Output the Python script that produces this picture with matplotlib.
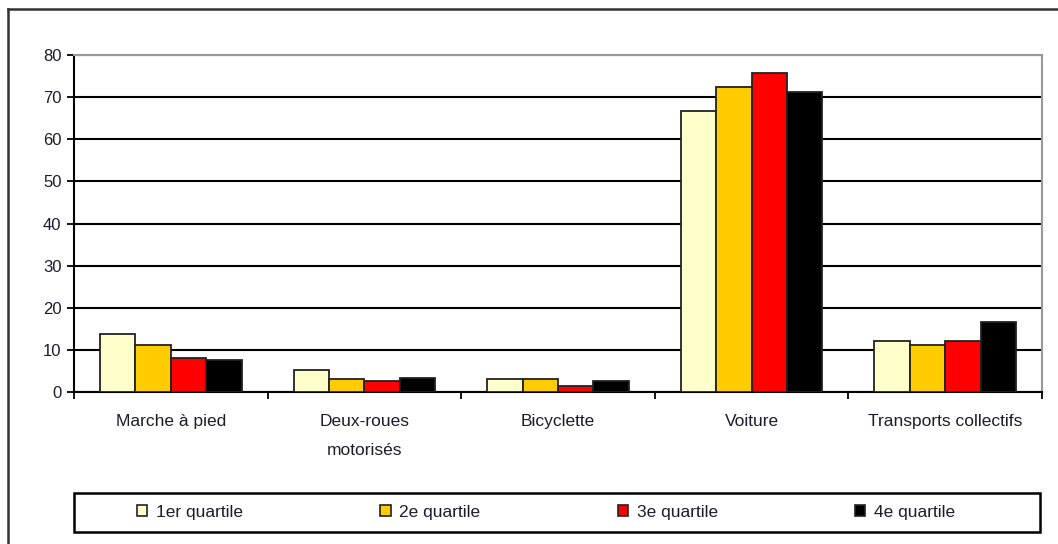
import numpy as np
import matplotlib.pyplot as plt
from matplotlib.patches import Rectangle, Patch
from matplotlib.lines import Line2D

plt.rcParams['font.family'] = ['Liberation Sans', 'DejaVu Sans']

# catégories et valeurs
categories = ['Marche à pied', 'Deux-roues\nmotorisés', 'Bicyclette', 'Voiture', 'Transports collectifs']
series = ['1er quartile', '2e quartile', '3e quartile', '4e quartile']
q1 = [13.8, 5.3, 3.1, 66.8, 12.2]
q2 = [11.2, 3.1, 3.1, 72.5, 11.2]
q3 = [8.0, 2.6, 1.5, 75.8, 12.2]
q4 = [7.6, 3.3, 2.7, 71.2, 16.6]
couleurs = ['#FFFFCC', '#FFCC00', '#FF0000', '#000000']
yticks = [0, 10, 20, 30, 40, 50, 60, 70, 80]

texte = '#1c1c2e'

W, H = 1058, 544
fig = plt.figure(figsize=(W / 100, H / 100), dpi=100)
ax = fig.add_axes([74 / W, 1 - 392 / H, (1042 - 74) / W, (392 - 55) / H])

x = np.arange(len(categories))
w = 0.183
for i, (vals, c) in enumerate(zip([q1, q2, q3, q4], couleurs)):
    ax.bar(x + (i - 1.5) * w, vals, w, color=c, edgecolor='#222222', linewidth=1.3,
           label=series[i], zorder=3)

ax.set_xlim(-0.5, len(categories) - 0.5)
ax.set_ylim(0, 80)
ax.set_yticks(yticks)
ax.yaxis.grid(True, color='black', linewidth=1.5, zorder=0)
ax.set_xticks(x)
ax.set_xticklabels(categories, fontsize=12.5, linespacing=2.15, color=texte)
ax.set_xticks(np.arange(len(categories) + 1) - 0.5, minor=True)
ax.tick_params(axis='x', which='major', length=0, pad=16)
ax.tick_params(axis='x', which='minor', length=5, width=1.3, direction='out')
ax.tick_params(axis='y', length=5, width=1.3, labelsize=12, pad=4, labelcolor=texte)

ax.spines['left'].set_linewidth(1.5)
ax.spines['bottom'].set_linewidth(1.5)
ax.spines['top'].set_color('#999999')
ax.spines['right'].set_color('#999999')
ax.spines['top'].set_linewidth(1.5)
ax.spines['right'].set_linewidth(1.5)

# cadre extérieur (haut et gauche)
fig.add_artist(Line2D([8 / W, 8 / W], [0, 1 - 9 / H], color='#333333', linewidth=1.8))
fig.add_artist(Line2D([8 / W, 1], [1 - 9 / H, 1 - 9 / H], color='#333333', linewidth=1.8))

# cadre de la légende
fig.add_artist(Rectangle((74 / W, 1 - 532 / H), (1040 - 74) / W, (532 - 493) / H,
                         transform=fig.transFigure, fill=False, edgecolor='black', linewidth=1.8))
handles = [Patch(facecolor=c, edgecolor='#222222', linewidth=1.2) for c in couleurs]
leg = fig.legend(handles, series, loc='center', bbox_to_anchor=(546 / W, 1 - 512 / H),
                 ncol=4, frameon=False, fontsize=12.5, handlelength=0.6, handleheight=0.6,
                 handletextpad=0.5, columnspacing=7.9)
for t in leg.get_texts():
    t.set_color(texte)

plt.savefig('out.png', dpi=100)
